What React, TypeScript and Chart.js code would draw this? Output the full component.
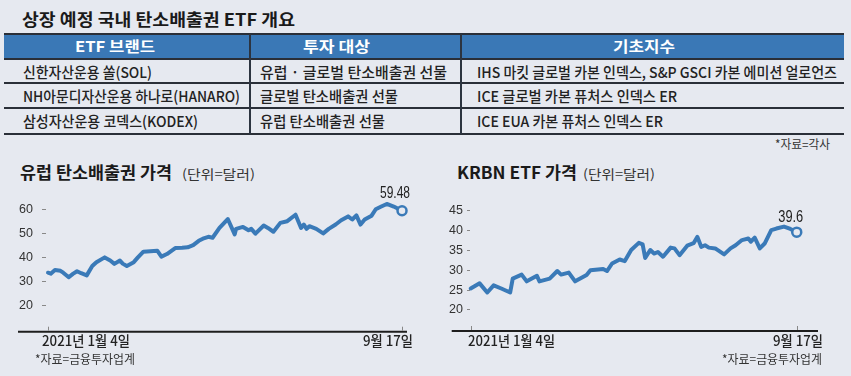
import React, { useEffect, useRef } from "react";
import { Chart, registerables } from "chart.js";

Chart.register(...registerables);

// ---------- DATA ----------
const TITLE = "상장 예정 국내 탄소배출권 ETF 개요";
const TABLE_HEADERS = ["ETF 브랜드", "투자 대상", "기초지수"];
const BRANDS = ["신한자산운용 쏠(SOL)", "NH아문디자산운용 하나로(HANARO)", "삼성자산운용 코덱스(KODEX)"];
const TARGETS = ["유럽 · 글로벌 탄소배출권 선물", "글로벌 탄소배출권 선물", "유럽 탄소배출권 선물"];
const INDICES = [
  "IHS 마킷 글로벌 카본 인덱스, S&P GSCI 카본 에미션 얼로언즈",
  "ICE 글로벌 카본 퓨처스 인덱스 ER",
  "ICE EUA 카본 퓨처스 인덱스 ER",
];
const TABLE_SOURCE = "*자료=각사";

const L_TITLE = "유럽 탄소배출권 가격";
const R_TITLE = "KRBN ETF 가격";
const UNIT = "(단위=달러)";
const X_START_LABEL = "2021년 1월 4일";
const X_END_LABEL = "9월 17일";
const CHART_SOURCE = "*자료=금융투자업계";

// days since 2021-01-04
const L_DAYS = [0, 2, 5, 9, 11, 15, 18, 21, 24, 28, 32, 35, 41, 45, 48, 52, 54, 57, 62, 65, 69, 74, 79, 82, 86, 92, 97, 101, 105, 109, 112, 116, 119, 124, 130, 135, 136, 141, 145, 147, 150, 156, 159, 163, 168, 173, 179, 183, 185, 187, 189, 194, 199, 203, 208, 212, 217, 220, 223, 226, 229, 234, 237, 241, 245, 250, 256];
const L_PRICE = [33.6, 33.2, 34.7, 34.4, 33.6, 31.7, 33.1, 34.2, 33.4, 32.5, 36.4, 38.0, 40.0, 38.7, 37.3, 38.7, 37.4, 36.4, 38.0, 40.0, 42.4, 42.6, 42.8, 40.3, 41.4, 43.9, 44.0, 44.2, 45.1, 46.9, 47.8, 48.6, 48.2, 52.3, 56.0, 49.6, 51.9, 52.7, 51.3, 51.9, 49.9, 53.3, 52.3, 50.7, 54.4, 55.1, 57.8, 52.3, 53.7, 51.9, 53.0, 51.9, 50.0, 51.9, 53.7, 55.5, 57.1, 55.8, 57.5, 53.7, 55.8, 57.4, 60.1, 61.2, 62.3, 61.2, 59.48];
const L_YTICKS = [20, 30, 40, 50, 60];

const R_DAYS = [0, 7, 13, 18, 24, 31, 33, 40, 44, 52, 54, 62, 68, 71, 77, 82, 91, 94, 104, 107, 111, 117, 121, 126, 132, 135, 137, 141, 144, 147, 151, 157, 160, 164, 170, 175, 178, 181, 184, 187, 192, 199, 204, 208, 213, 218, 220, 223, 227, 231, 236, 240, 246, 251, 256];
const R_PRICE = [25.4, 26.7, 24.4, 26.2, 25.4, 24.4, 27.9, 28.9, 27.2, 28.6, 27.2, 27.9, 29.8, 28.9, 29.4, 27.2, 28.8, 30.0, 30.3, 29.8, 31.7, 32.7, 32.3, 35.1, 36.9, 36.5, 33.1, 35.1, 34.2, 34.6, 33.4, 35.7, 35.5, 33.8, 36.2, 36.8, 38.4, 35.9, 36.3, 35.7, 35.5, 34.0, 35.5, 36.3, 37.6, 38.0, 37.2, 38.2, 35.5, 36.8, 40.1, 40.5, 41.0, 40.4, 39.6];
const R_YTICKS = [20, 25, 30, 35, 40, 45];

// ---------- STYLE ----------
const BG = "#e6e9f0";
const BLUE = "#3a7ab8";
const HEADER_BLUE = "#3a78b6";
const KR = '"Noto Sans CJK KR", "Noto Sans", sans-serif';
const NUM = '"Liberation Sans Narrow", "Liberation Sans", Arial, sans-serif';

let measureCtx: CanvasRenderingContext2D | null = null;
function measure(text: string, font: string) {
  if (!measureCtx) measureCtx = document.createElement("canvas").getContext("2d");
  measureCtx!.font = font;
  return measureCtx!.measureText(text).width;
}

function T(props: { text: string; x: number; y: number; w: number; size: number; weight?: number; color?: string; family?: string }) {
  const { text, x, y, w, size, weight = 400, color = "#222", family = KR } = props;
  const mw = measure(text, `${weight} ${size}px ${family}`);
  const s = mw > 0 ? w / mw : 1;
  return (
    <div
      style={{
        position: "absolute",
        left: x,
        top: y - size / 2 - size * 0.06,
        height: size,
        lineHeight: `${size}px`,
        fontSize: size,
        fontWeight: weight,
        fontFamily: family,
        color,
        whiteSpace: "nowrap",
        transform: `scaleX(${s})`,
        transformOrigin: "left center",
      }}
    >
      {text}
    </div>
  );
}

const decorPlugin = {
  id: "decor",
  afterDatasetsDraw(chart: any, _args: any, opts: any) {
    const { ctx, chartArea } = chart;
    const xs = chart.scales.x;
    const ys = chart.scales.y;
    ctx.save();
    ctx.strokeStyle = "#1e1e1e";
    ctx.lineWidth = 2;
    ctx.beginPath();
    ctx.moveTo(opts.axisFrom, chartArea.bottom);
    ctx.lineTo(opts.axisTo, chartArea.bottom);
    ctx.stroke();
    ctx.strokeStyle = "#888";
    ctx.lineWidth = 1;
    for (const d of opts.tickDays) {
      const px = Math.round(xs.getPixelForValue(d)) + 0.5;
      ctx.beginPath();
      ctx.moveTo(px, chartArea.bottom - 5);
      ctx.lineTo(px, chartArea.bottom - 1);
      ctx.stroke();
    }
    const data = chart.data.datasets[0].data;
    const last = data[data.length - 1];
    const px = xs.getPixelForValue(last.x);
    const py = ys.getPixelForValue(last.y);
    ctx.font = `16px ${NUM}`;
    ctx.fillStyle = "#222";
    ctx.textAlign = "center";
    ctx.textBaseline = "middle";
    ctx.fillText(String(last.y), px + opts.labelDx, py + opts.labelDy, opts.labelW);
    ctx.restore();
  },
};

type LCProps = {
  days: number[];
  prices: number[];
  yTicks: number[];
  yMin: number;
  yMax: number;
  xMin: number;
  xMax: number;
  width: number;
  height: number;
  padding: { left: number; top: number; right: number; bottom: number };
  yWidth: number;
  tickLen: number;
  tickPad: number;
  axisFrom: number;
  axisTo: number;
  labelDx: number;
  labelDy: number;
  labelW: number;
  style: React.CSSProperties;
};

function LineChart(p: LCProps) {
  const ref = useRef<HTMLCanvasElement | null>(null);
  useEffect(() => {
    if (!ref.current) return;
    const pts = p.days.map((d, i) => ({ x: d, y: p.prices[i] }));
    const n = pts.length;
    const chart = new Chart(ref.current, {
      type: "line",
      data: {
        datasets: [
          {
            data: pts,
            borderColor: BLUE,
            borderWidth: 4,
            borderJoinStyle: "round",
            borderCapStyle: "round",
            tension: 0,
            clip: false as any,
            pointRadius: pts.map((_, i) => (i === n - 1 ? 4.5 : 0)),
            pointHoverRadius: 0,
            pointBackgroundColor: BG,
            pointBorderColor: BLUE,
            pointBorderWidth: 2.5,
          },
        ],
      },
      options: {
        responsive: false,
        animation: false,
        events: [],
        layout: { padding: p.padding },
        plugins: {
          legend: { display: false },
          tooltip: { enabled: false },
          decor: {
            axisFrom: p.axisFrom,
            axisTo: p.axisTo,
            tickDays: [p.days[0], p.days[p.days.length - 1]],
            labelDx: p.labelDx,
            labelDy: p.labelDy,
            labelW: p.labelW,
          },
        } as any,
        scales: {
          x: { type: "linear", display: false, min: p.xMin, max: p.xMax },
          y: {
            type: "linear",
            min: p.yMin,
            max: p.yMax,
            afterBuildTicks: (s: any) => {
              s.ticks = p.yTicks.map((v) => ({ value: v }));
            },
            afterFit: (s: any) => {
              s.width = p.yWidth;
            },
            grid: {
              display: true,
              drawOnChartArea: false,
              drawTicks: true,
              tickLength: p.tickLen,
              color: "#888",
              lineWidth: 1,
            },
            border: { display: false },
            ticks: {
              padding: p.tickPad,
              color: "#333",
              font: { family: NUM, size: 12.5 },
            },
          },
        },
      },
      plugins: [decorPlugin],
    });
    return () => chart.destroy();
  }, []);
  return (
    <canvas
      ref={ref}
      width={p.width}
      height={p.height}
      style={{ position: "absolute", display: "block", width: p.width, height: p.height, ...p.style }}
    />
  );
}

export default function App() {
  const lineColor = "#2a2f38";
  const rowLines = [33, 58, 82, 107, 133];
  const rowY = [72, 96.5, 121.5];
  const brandW = [129, 217, 175];
  const targetW = [187, 138, 125];
  const indexW = [360, 200, 186];
  return (
    <div
      style={{
        position: "fixed",
        left: 0,
        top: 0,
        width: 851,
        height: 376,
        background: BG,
        overflow: "hidden",
        fontFamily: KR,
      }}
    >
      <T text={TITLE} x={22} y={20} w={273} size={17} weight={700} color="#1a1a1a" />

      {/* table */}
      <div style={{ position: "absolute", left: 4, top: 34, width: 840, height: 25, background: HEADER_BLUE }} />
      {rowLines.map((y, i) => (
        <div key={i} style={{ position: "absolute", left: 4, top: y, width: 840, height: 2, background: lineColor }} />
      ))}
      {[249, 460].map((x, i) => (
        <div key={i} style={{ position: "absolute", left: x, top: 34, width: 1.5, height: 100, background: "#2c3440" }} />
      ))}
      <T text={TABLE_HEADERS[0]} x={75} y={46.5} w={80} size={15} weight={700} color="#fff" />
      <T text={TABLE_HEADERS[1]} x={303} y={46.5} w={67} size={15} weight={700} color="#fff" />
      <T text={TABLE_HEADERS[2]} x={613} y={46.5} w={62} size={15} weight={700} color="#fff" />
      {BRANDS.map((t, i) => (
        <T key={"b" + i} text={t} x={23} y={rowY[i]} w={brandW[i]} size={15} weight={500} color="#222" />
      ))}
      {TARGETS.map((t, i) => (
        <T key={"t" + i} text={t} x={260} y={rowY[i]} w={targetW[i]} size={15} weight={500} color="#222" />
      ))}
      {INDICES.map((t, i) => (
        <T key={"i" + i} text={t} x={477} y={rowY[i]} w={indexW[i]} size={15} weight={500} color="#222" />
      ))}
      <T text={TABLE_SOURCE} x={775} y={145} w={55} size={12} color="#333" />

      {/* chart titles */}
      <T text={L_TITLE} x={20} y={173} w={152} size={17} weight={700} color="#1a1a1a" />
      <T text={UNIT} x={182} y={174} w={73} size={13} color="#333" />
      <T text={R_TITLE} x={457} y={173} w={120} size={17} weight={700} color="#1a1a1a" />
      <T text={UNIT} x={583} y={174} w={72} size={13} color="#333" />

      <LineChart
        days={L_DAYS}
        prices={L_PRICE}
        yTicks={L_YTICKS}
        yMin={9}
        yMax={65.4}
        xMin={-1.45}
        xMax={259.6}
        width={425}
        height={196}
        padding={{ left: 0, top: 15, right: 18, bottom: 44.3 }}
        yWidth={46}
        tickLen={4}
        tickPad={9}
        axisFrom={18}
        axisTo={407}
        labelDx={-7}
        labelDy={-16.6}
        labelW={30}
        style={{ left: 0, top: 180 }}
      />
      <LineChart
        days={R_DAYS}
        prices={R_PRICE}
        yTicks={R_YTICKS}
        yMin={14.7}
        yMax={48.95}
        xMin={-0.55}
        xMax={272.7}
        width={426}
        height={196}
        padding={{ left: 0, top: 15, right: 33, bottom: 45 }}
        yWidth={45}
        tickLen={3}
        tickPad={4}
        axisFrom={26.7}
        axisTo={393}
        labelDx={-6}
        labelDy={-15}
        labelW={25}
        style={{ left: 425, top: 180 }}
      />

      {/* x labels and sources */}
      <T text={X_START_LABEL} x={42} y={341} w={88} size={14} weight={500} color="#222" />
      <T text={X_END_LABEL} x={363} y={341} w={50} size={14} weight={500} color="#222" />
      <T text={CHART_SOURCE} x={35} y={360} w={100} size={12.5} color="#333" />
      <T text={X_START_LABEL} x={468} y={341} w={87} size={14} weight={500} color="#222" />
      <T text={X_END_LABEL} x={773} y={341} w={50} size={14} weight={500} color="#222" />
      <T text={CHART_SOURCE} x={722} y={360} w={100} size={12.5} color="#333" />
    </div>
  );
}
